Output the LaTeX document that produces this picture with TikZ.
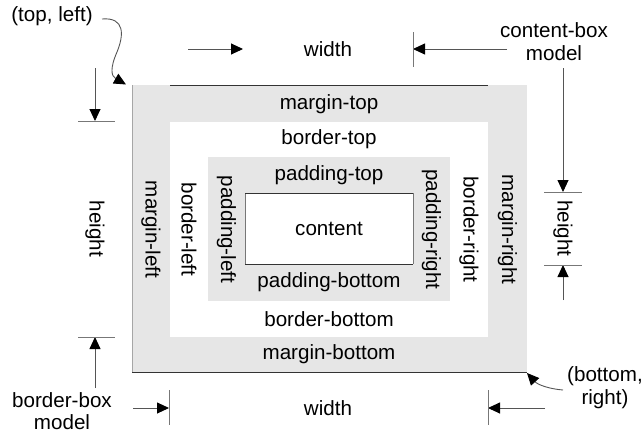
\documentclass[tikz,border=0pt]{standalone}
\usepackage{fontspec}
\setmainfont{Liberation Sans}
\usetikzlibrary{arrows.meta}
\definecolor{boxgray}{HTML}{E6E6E6}
\definecolor{dimgray}{HTML}{555555}
\definecolor{tickgray}{HTML}{777777}
\definecolor{edgedark}{HTML}{333333}
\begin{document}
\begin{tikzpicture}[x=1pt,y=-1pt,
  lbl/.style={font=\fontsize{20.6}{23}\selectfont, inner sep=0pt, align=center},
  vlbl/.style={lbl, rotate=-90},
  dimarrow/.style={draw=dimgray, line width=0.9pt, -{Triangle[length=12pt,width=11pt,color=black]}},
  tickline/.style={draw=tickgray, line width=0.8pt},
  edgeline/.style={draw=edgedark, line width=0.9pt},
  ]
\useasboundingbox (0,0) rectangle (642,434);

% nested boxes
\fill[boxgray] (132,85) rectangle (527,372);
\fill[white] (170,122) rectangle (488,337);
\fill[boxgray] (208,157) rectangle (450,301);
\fill[white] (245,193) rectangle (413,264);
\draw[draw=tickgray, line width=0.6pt] (245,193) -- (245,264) (413,193) -- (413,264);
\draw[edgeline] (245,193) -- (413,193) (245,264) -- (413,264);
\draw[edgeline] (170,85) -- (488,85);
\draw[edgeline] (132,372) -- (527,372);
\draw[draw=black!35, line width=0.7pt] (132,85) -- (132,372);

% horizontal labels
\node[lbl] (mtop) at (329,104) {margin-top};
\node[lbl] (btop) at (329,139.5) {border-top};
\node[lbl] (ptop) at (329,175) {padding-top};
\node[lbl] (cont) at (329,229) {content};
\node[lbl] (pbot) at (329,282.5) {padding-bottom};
\node[lbl] (bbot) at (329,319) {border-bottom};
\node[lbl] (mbot) at (329,354.5) {margin-bottom};

% vertical labels
\node[vlbl] (mleft) at (151,229.5) {margin-left};
\node[vlbl] (bleft) at (189,229.5) {border-left};
\node[vlbl] (pleft) at (226.5,229.5) {padding-left};
\node[vlbl] (pright) at (431.5,229.5) {padding-right};
\node[vlbl] (bright) at (469,229.5) {border-right};
\node[vlbl] (mright) at (507.5,229.5) {margin-right};

% outside labels
\node[lbl] (topleft) at (52,16) {(top, left)};
\node[lbl] (cbm) at (554,42) {content-box\\model};
\node[lbl, font=\fontsize{20.6}{22}\selectfont] (bbm) at (62,411.5) {border-box\\model};
\node[lbl] (botright) at (605,388) {(bottom,\\right)};
\node[lbl] (wtop) at (328,49) {width};
\node[lbl] (wbot) at (328,408) {width};
\node[vlbl] (hleft) at (95,229) {height};
\node[vlbl] (hright) at (563,228.5) {height};

% coordinates
\coordinate (tlstart) at (102,19);
\coordinate (tltip) at (126,84.5);
\coordinate (brstart) at (563,390);
\coordinate (brtip) at (527,373);

\coordinate (wt1a) at (188,49);   \coordinate (wt1b) at (243,49);
\coordinate (wt2a) at (507,49);   \coordinate (wt2b) at (413,49);
\coordinate (wtk1) at (413,32);   \coordinate (wtk2) at (413,67);

\coordinate (hr1a) at (563,68);   \coordinate (hr1b) at (563,192);
\coordinate (hr2a) at (563,300);  \coordinate (hr2b) at (563,265);
\coordinate (hrk1a) at (544,192); \coordinate (hrk1b) at (582,192);
\coordinate (hrk2a) at (544,265); \coordinate (hrk2b) at (582,265);

\coordinate (hl1a) at (95,68);    \coordinate (hl1b) at (95,121);
\coordinate (hl2a) at (95,388);   \coordinate (hl2b) at (95,337);
\coordinate (hlk1a) at (78,121);  \coordinate (hlk1b) at (115,121);
\coordinate (hlk2a) at (78,337);  \coordinate (hlk2b) at (115,337);

\coordinate (wb1a) at (133,408);  \coordinate (wb1b) at (169,408);
\coordinate (wb2a) at (545,408);  \coordinate (wb2b) at (488,408);
\coordinate (wbk1a) at (169,390); \coordinate (wbk1b) at (169,425);
\coordinate (wbk2a) at (488,390); \coordinate (wbk2b) at (488,425);

% curved pointers
\draw[dimarrow] (tlstart) .. controls (125,17) and (124,35) .. (117,52)
   .. controls (110,68) and (111,76) .. (tltip);
\draw[dimarrow] (brstart) .. controls (550,389) and (538,385) .. (brtip);

% dimension arrows
\draw[dimarrow] (wt1a) -- (wt1b);
\draw[dimarrow] (wt2a) -- (wt2b);
\draw[tickline] (wtk1) -- (wtk2);

\draw[dimarrow] (hr1a) -- (hr1b);
\draw[dimarrow] (hr2a) -- (hr2b);
\draw[tickline] (hrk1a) -- (hrk1b);
\draw[tickline] (hrk2a) -- (hrk2b);

\draw[dimarrow] (hl1a) -- (hl1b);
\draw[dimarrow] (hl2a) -- (hl2b);
\draw[tickline] (hlk1a) -- (hlk1b);
\draw[tickline] (hlk2a) -- (hlk2b);

\draw[dimarrow] (wb1a) -- (wb1b);
\draw[dimarrow] (wb2a) -- (wb2b);
\draw[tickline] (wbk1a) -- (wbk1b);
\draw[tickline] (wbk2a) -- (wbk2b);
\end{tikzpicture}
\end{document}
